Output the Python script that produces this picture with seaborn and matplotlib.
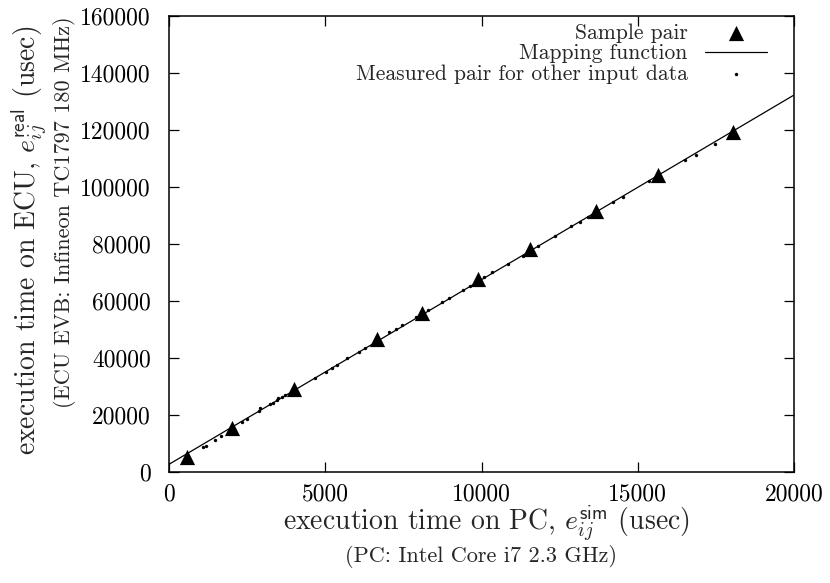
import matplotlib
matplotlib.use("Agg")
import matplotlib.pyplot as plt
import seaborn as sns
import pandas as pd

# Sample pairs (triangles)
sample_x = [560, 2000, 4010, 6650, 8090, 9880, 11550, 13650, 15660, 18060]
sample_y = [5300, 15400, 29100, 46700, 55800, 67800, 78300, 91500, 104100, 119300]

# Mapping function (line end points)
map_x = [0, 20000]
map_y = [2800, 132200]

# Measured pairs for other input data (dots)
meas_x = [1078, 1174, 1472, 1664, 2346, 2506, 2890, 2912, 3232, 3318, 3446, 3498, 3606,
          3712, 4672, 5024, 5206, 5366, 5706, 6090, 6272, 7050, 7254, 7456, 7894, 8298,
          8726, 8970, 9398, 9632, 10090, 10346, 10838, 11318, 11818, 12352, 12864, 13152,
          13398, 14218, 14518, 15370, 16512, 16864, 17472]
meas_y = [8990, 9340, 11230, 12740, 17760, 18600, 21400, 22460, 23970, 24430, 25380, 25970,
          26540, 27130, 32990, 35310, 36610, 37660, 40010, 42330, 43520, 49000, 50190,
          51700, 54400, 56970, 59530, 61070, 63990, 65390, 68440, 70060, 73110, 75920,
          79190, 82940, 86210, 87750, 89500, 94630, 96390, 102000, 109270, 111020, 115130]

x_ticks = [0, 5000, 10000, 15000, 20000]
y_ticks = [0, 20000, 40000, 60000, 80000, 100000, 120000, 140000, 160000]

sns.set_theme(style="ticks")
plt.rcParams["font.family"] = ["cmr10", "DejaVu Serif"]
plt.rcParams["mathtext.fontset"] = "cm"
plt.rcParams["axes.formatter.use_mathtext"] = True
plt.rcParams["axes.unicode_minus"] = False

FS_TICK = 17
FS_LEG = 15.5
FS_LAB = 20
FS_SUB = 16

fig = plt.figure(figsize=(8.3, 5.83), dpi=100)
ax = fig.add_axes([169 / 830, 1 - 472.3 / 583, (794 - 169) / 830, (472.3 - 15.7) / 583])

df_meas = pd.DataFrame({"x": meas_x, "y": meas_y})
df_samp = pd.DataFrame({"x": sample_x, "y": sample_y})
df_map = pd.DataFrame({"x": map_x, "y": map_y})

sns.lineplot(data=df_map, x="x", y="y", ax=ax, color="black", linewidth=0.9,
             label="Mapping function")
sns.scatterplot(data=df_meas, x="x", y="y", ax=ax, color="black", marker="o", s=6,
                linewidth=0, label="Measured pair for other input data")
sns.scatterplot(data=df_samp, x="x", y="y", ax=ax, color="black", marker="^", s=120,
                linewidth=0, label="Sample pair")

ax.set_xlim(0, 20000)
ax.set_ylim(0, 160000)
ax.set_xticks(x_ticks)
ax.set_yticks(y_ticks)
ax.set_xticklabels([str(v) for v in x_ticks])
ax.set_yticklabels([str(v) for v in y_ticks])
ax.set_xlabel("")
ax.set_ylabel("")
ax.tick_params(direction="in", length=7, width=0.9, top=True, right=True,
               labelsize=FS_TICK, colors="black")
ax.tick_params(axis="x", pad=8)
ax.tick_params(axis="y", pad=13)
for sp in ax.spines.values():
    sp.set_color("black")
    sp.set_linewidth(1.1)

handles, labels = ax.get_legend_handles_labels()
order = [labels.index("Sample pair"), labels.index("Mapping function"),
         labels.index("Measured pair for other input data")]
leg = ax.legend([handles[i] for i in order], [labels[i] for i in order],
                loc="upper right", bbox_to_anchor=(0.957, 0.984), frameon=False,
                markerfirst=False, fontsize=FS_LEG, handlelength=2.9, handletextpad=0.8,
                borderpad=0, borderaxespad=0, labelspacing=0.06)

fig.text(486 / 830, 1 - 524 / 583,
         r"execution time on PC, $e_{ij}^{\mathsf{sim}}$ (usec)",
         ha="center", va="center", fontsize=FS_LAB)
fig.text(481 / 830, 1 - 557 / 583, "(PC: Intel Core i7 2.3 GHz)",
         ha="center", va="center", fontsize=FS_SUB)
fig.text(30 / 830, 1 - 240 / 583,
         r"execution time on ECU, $e_{ij}^{\mathsf{real}}$ (usec)",
         ha="center", va="center", rotation=90, fontsize=FS_LAB)
fig.text(64 / 830, 1 - 212 / 583, "(ECU EVB: Infineon TC1797 180 MHz)",
         ha="center", va="center", rotation=90, fontsize=FS_SUB)

fig.savefig("out.png", dpi=100)
